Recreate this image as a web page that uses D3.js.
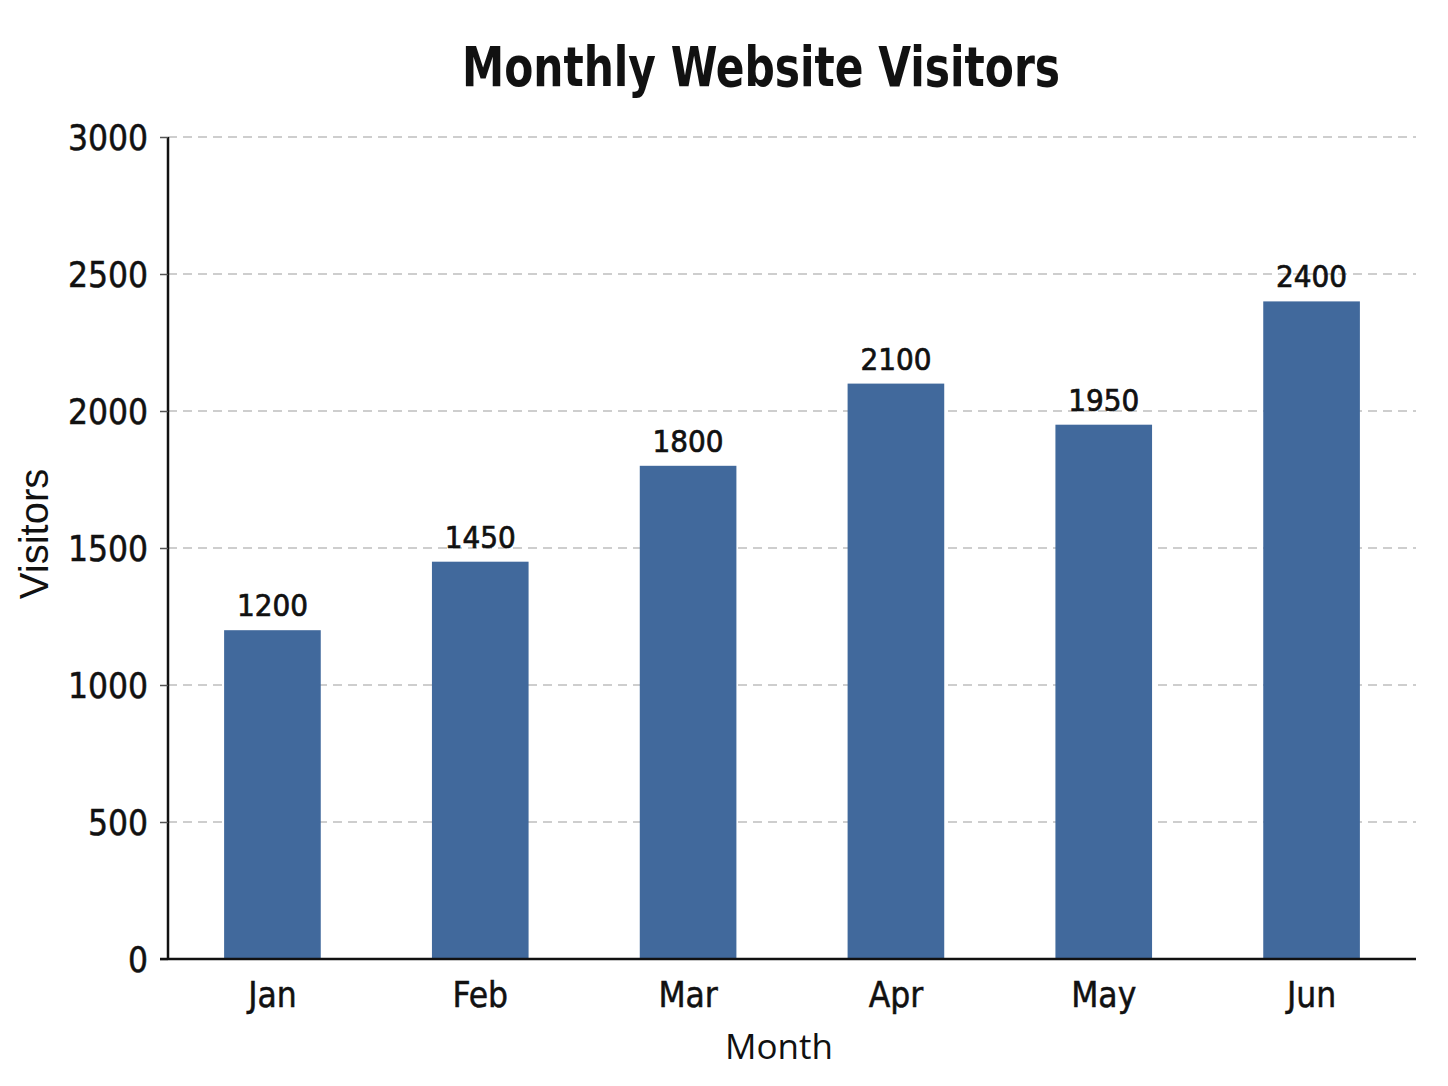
<!DOCTYPE html>
<html>
<head>
<meta charset="utf-8">
<script src="https://cdn.jsdelivr.net/npm/d3@7"></script>
<style>
  body { margin: 0; background: #fff; }
  text { fill: #111; }
</style>
</head>
<body>
<svg id="chart" width="1448" height="1086"></svg>
<script>
// data
var months = ["Jan", "Feb", "Mar", "Apr", "May", "Jun"];
var visitors = [1200, 1450, 1800, 2100, 1950, 2400];
var yTicks = [0, 500, 1000, 1500, 2000, 2500, 3000];

var condensed = "'DejaVu Sans Condensed', 'Roboto Condensed', Roboto, sans-serif";

var svg = d3.select("#chart"),
    margin = {top: 137, right: 32, bottom: 127, left: 168},
    width = 1448 - margin.left - margin.right,
    height = 1086 - margin.top - margin.bottom;

var g = svg.append("g").attr("transform", `translate(${margin.left},${margin.top})`);

var x = d3.scaleBand().domain(months).range([0, width]).paddingInner(0.535).paddingOuter(0.27);
var y = d3.scaleLinear().domain([0, 3000]).range([height, 0]);

// grid
g.append("g")
    .selectAll("line")
    .data(yTicks.slice(1))
    .enter().append("line")
    .attr("x1", 0).attr("x2", width)
    .attr("y1", d => y(d)).attr("y2", d => y(d))
    .attr("stroke", "#bfbfbf")
    .attr("stroke-width", 1.5)
    .attr("stroke-dasharray", "9,6");

// bars
g.selectAll(".bar")
    .data(visitors)
    .enter().append("rect")
    .attr("class", "bar")
    .attr("x", (d, i) => x(months[i]))
    .attr("y", d => y(d))
    .attr("width", x.bandwidth())
    .attr("height", d => height - y(d))
    .attr("fill", "#41699c");

// value labels
g.selectAll(".val")
    .data(visitors)
    .enter().append("text")
    .attr("class", "val")
    .attr("x", (d, i) => x(months[i]) + x.bandwidth() / 2)
    .attr("y", d => y(d) - 14)
    .attr("text-anchor", "middle")
    .style("font-family", condensed)
    .style("font-size", "31px")
    .style("stroke", "#111")
    .style("stroke-width", 0.7)
    .text(d => d);

// axes
var yAxis = g.append("g")
    .call(d3.axisLeft(y).tickValues(yTicks).tickFormat(d3.format("d")).tickSize(8).tickPadding(12));
var xAxis = g.append("g")
    .attr("transform", `translate(0,${height})`)
    .call(d3.axisBottom(x).tickSize(0).tickPadding(23));

[yAxis, xAxis].forEach(a => {
    a.select(".domain").attr("stroke", "#111").attr("stroke-width", 2.5);
    a.selectAll(".tick line").attr("stroke", "#555").attr("stroke-width", 1.5);
    a.selectAll(".tick text")
        .style("font-family", condensed)
        .style("font-size", "35px")
        .style("stroke", "#111")
        .style("stroke-width", 0.5)
        .attr("fill", "#111");
});
yAxis.select(".domain").attr("d", `M0,0V${height}`);
xAxis.select(".domain").attr("d", `M-8,0H${width}`);
yAxis.selectAll(".tick text").attr("dy", "0.36em");

// title
svg.append("text")
    .attr("x", 761).attr("y", 86)
    .attr("text-anchor", "middle")
    .attr("textLength", 598)
    .attr("lengthAdjust", "spacingAndGlyphs")
    .style("font-family", condensed)
    .style("font-size", "55px")
    .style("font-weight", "bold")
    .text("Monthly Website Visitors");

// axis titles
svg.append("text")
    .attr("transform", "translate(48,534) rotate(-90)")
    .attr("text-anchor", "middle")
    .style("font-family", "'Liberation Sans', Arial, sans-serif")
    .style("font-size", "40px")
    .text("Visitors");

svg.append("text")
    .attr("x", 779).attr("y", 1059)
    .attr("text-anchor", "middle")
    .style("font-family", "'Open Sans', 'Noto Sans', sans-serif")
    .style("font-size", "35px")
    .text("Month");
</script>
</body>
</html>
